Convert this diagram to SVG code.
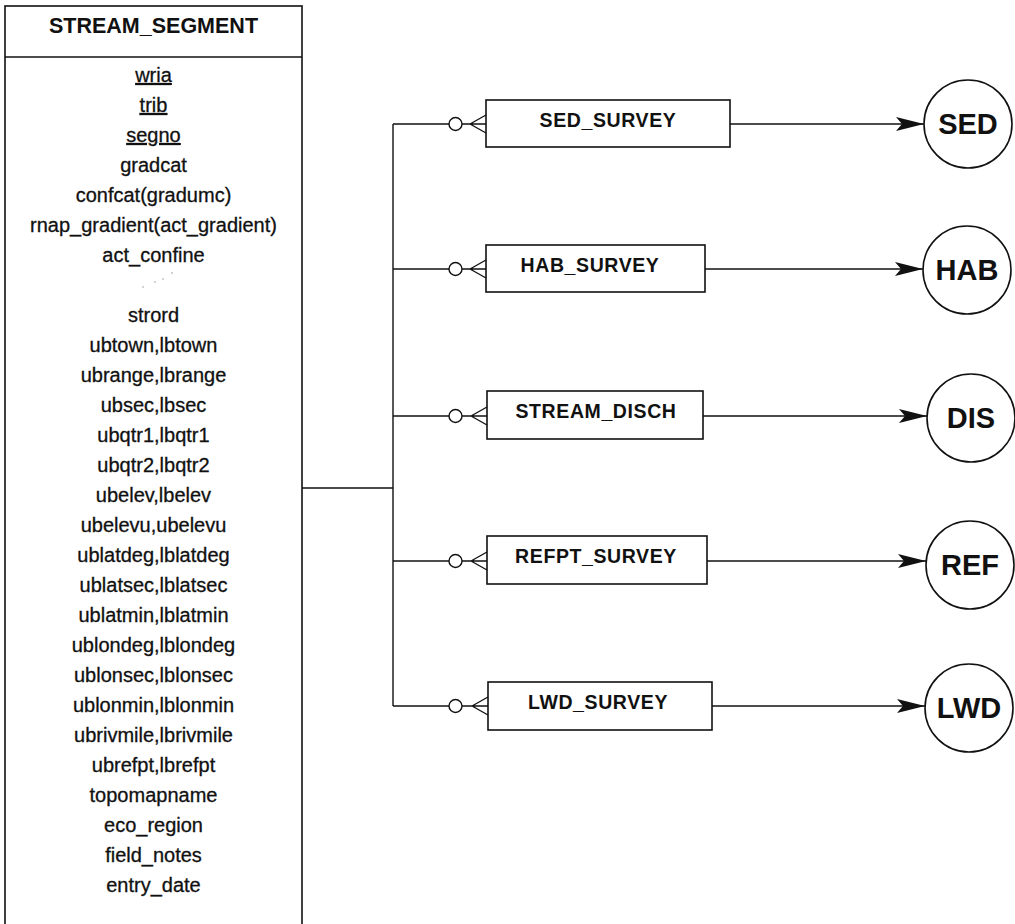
<svg xmlns="http://www.w3.org/2000/svg" width="1015" height="924" viewBox="0 0 1015 924">
<style>
.bg{fill:#fff}
.box{fill:#fff;stroke:#111;stroke-width:1.6}
.ln{fill:none;stroke:#111;stroke-width:1.4}
.attr{font-family:"Liberation Sans",Arial,sans-serif;font-size:20px;fill:#111;stroke:#111;stroke-width:0.3;text-anchor:middle}
.title{font-family:"Liberation Sans",Arial,sans-serif;font-size:21.5px;font-weight:bold;fill:#111;text-anchor:middle}
.lbl{font-family:"Liberation Sans",Arial,sans-serif;font-size:19.5px;font-weight:bold;letter-spacing:0.6px;fill:#111;text-anchor:middle}
.clbl{font-family:"Liberation Sans",Arial,sans-serif;font-size:29px;font-weight:bold;fill:#111;text-anchor:middle}
.ul{text-decoration:underline}
</style>
<defs>
<marker id="arr" markerUnits="userSpaceOnUse" markerWidth="30" markerHeight="18" refX="28" refY="8" orient="auto">
<path d="M0,1 L28,8 L0,15 L6,8 Z" fill="#111"/>
</marker>
</defs>
<rect class="bg" x="0" y="0" width="1015" height="924"/>

<g id="stream_segment">
<rect class="box" x="5" y="6" width="297" height="922"/>
<line class="ln" x1="5" y1="57" x2="302" y2="57"/>
<text class="title" x="153.5" y="33">STREAM_SEGMENT</text>
<text class="attr ul" x="153.5" y="82">wria</text>
<text class="attr ul" x="153.5" y="112">trib</text>
<text class="attr ul" x="153.5" y="142">segno</text>
<text class="attr" x="153.5" y="172">gradcat</text>
<text class="attr" x="153.5" y="202">confcat(gradumc)</text>
<text class="attr" x="153.5" y="232">rnap_gradient(act_gradient)</text>
<text class="attr" x="153.5" y="262">act_confine</text>
<g fill="#999">
<circle cx="143" cy="287" r="0.8"/><circle cx="155" cy="282" r="0.8"/><circle cx="163" cy="279" r="0.8"/><circle cx="172" cy="273" r="0.8"/>
</g>
<text class="attr" x="153.5" y="322">strord</text>
<text class="attr" x="153.5" y="352">ubtown,lbtown</text>
<text class="attr" x="153.5" y="382">ubrange,lbrange</text>
<text class="attr" x="153.5" y="412">ubsec,lbsec</text>
<text class="attr" x="153.5" y="442">ubqtr1,lbqtr1</text>
<text class="attr" x="153.5" y="472">ubqtr2,lbqtr2</text>
<text class="attr" x="153.5" y="502">ubelev,lbelev</text>
<text class="attr" x="153.5" y="532">ubelevu,ubelevu</text>
<text class="attr" x="153.5" y="562">ublatdeg,lblatdeg</text>
<text class="attr" x="153.5" y="592">ublatsec,lblatsec</text>
<text class="attr" x="153.5" y="622">ublatmin,lblatmin</text>
<text class="attr" x="153.5" y="652">ublondeg,lblondeg</text>
<text class="attr" x="153.5" y="682">ublonsec,lblonsec</text>
<text class="attr" x="153.5" y="712">ublonmin,lblonmin</text>
<text class="attr" x="153.5" y="742">ubrivmile,lbrivmile</text>
<text class="attr" x="153.5" y="772">ubrefpt,lbrefpt</text>
<text class="attr" x="153.5" y="802">topomapname</text>
<text class="attr" x="153.5" y="832">eco_region</text>
<text class="attr" x="153.5" y="862">field_notes</text>
<text class="attr" x="153.5" y="892">entry_date</text>
</g>

<g id="sed_survey"><rect class="box" x="486" y="100" width="244" height="47"/><text class="lbl" x="608" y="127">SED_SURVEY</text></g>
<g id="hab_survey"><rect class="box" x="486" y="245" width="219" height="47"/><text class="lbl" x="590" y="272">HAB_SURVEY</text></g>
<g id="stream_disch"><rect class="box" x="487" y="391" width="216" height="48"/><text class="lbl" x="596" y="418">STREAM_DISCH</text></g>
<g id="refpt_survey"><rect class="box" x="487" y="536" width="220" height="48"/><text class="lbl" x="596" y="563">REFPT_SURVEY</text></g>
<g id="lwd_survey"><rect class="box" x="488" y="682" width="224" height="48"/><text class="lbl" x="598" y="709">LWD_SURVEY</text></g>

<g id="sed"><circle class="box" cx="968" cy="124" r="44"/><text class="clbl" x="968" y="134">SED</text></g>
<g id="hab"><circle class="box" cx="967" cy="270" r="44"/><text class="clbl" x="967" y="280">HAB</text></g>
<g id="dis"><circle class="box" cx="971" cy="418" r="44"/><text class="clbl" x="971" y="428">DIS</text></g>
<g id="ref"><circle class="box" cx="970" cy="565" r="44"/><text class="clbl" x="970" y="575">REF</text></g>
<g id="lwd"><circle class="box" cx="969" cy="708" r="44"/><text class="clbl" x="969" y="718">LWD</text></g>

<g id="connectors">
<line class="ln" x1="302" y1="488" x2="393" y2="488"/>
<line class="ln" x1="393" y1="124" x2="393" y2="706"/>
<g id="crow_sed">
<line class="ln" x1="393" y1="124" x2="449" y2="124"/><circle class="ln" cx="455.5" cy="124" r="6.5"/>
<path class="ln" d="M462,124 H486 M470,124 L486,115 M470,124 L486,133"/>
</g>
<g id="crow_hab">
<line class="ln" x1="393" y1="269" x2="449" y2="269"/><circle class="ln" cx="455.5" cy="269" r="6.5"/>
<path class="ln" d="M462,269 H486 M470,269 L486,260 M470,269 L486,278"/>
</g>
<g id="crow_dis">
<line class="ln" x1="393" y1="416" x2="449" y2="416"/><circle class="ln" cx="455.5" cy="416" r="6.5"/>
<path class="ln" d="M462,416 H487 M471,416 L487,407 M471,416 L487,425"/>
</g>
<g id="crow_ref">
<line class="ln" x1="393" y1="561" x2="449" y2="561"/><circle class="ln" cx="455.5" cy="561" r="6.5"/>
<path class="ln" d="M462,561 H487 M471,561 L487,552 M471,561 L487,570"/>
</g>
<g id="crow_lwd">
<line class="ln" x1="393" y1="706" x2="449" y2="706"/><circle class="ln" cx="455.5" cy="706" r="6.5"/>
<path class="ln" d="M462,706 H488 M472,706 L488,697 M472,706 L488,715"/>
</g>
<line class="ln" x1="730" y1="124" x2="924" y2="124" marker-end="url(#arr)"/>
<line class="ln" x1="705" y1="269" x2="923" y2="269" marker-end="url(#arr)"/>
<line class="ln" x1="703" y1="416" x2="927" y2="416" marker-end="url(#arr)"/>
<line class="ln" x1="707" y1="561" x2="926" y2="561" marker-end="url(#arr)"/>
<line class="ln" x1="712" y1="706" x2="925" y2="706" marker-end="url(#arr)"/>
</g>
</svg>
